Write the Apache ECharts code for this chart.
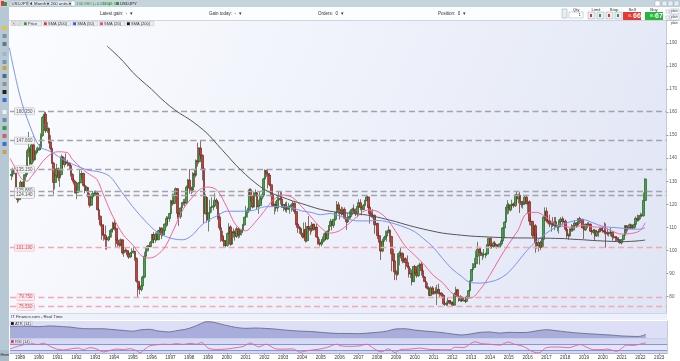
<!DOCTYPE html>
<html>
<head>
<meta charset="utf-8">
<script src="https://cdn.jsdelivr.net/npm/echarts@6/dist/echarts.min.js"></script>
<style>html,body{margin:0;padding:0;background:#fff;}#c{width:680px;height:361px;}</style>
</head>
<body>
<div id="c"></div>
<script>
// USD/JPY monthly candles, Jul 1988 .. Apr 2022
const startYear = 1988, startMonth = 7;
const opens = [
132.5,133.0,134.6,134.3,125.5,122.0,
125.1,129.6,127.3,132.6,132.9,142.8,144.0,137.6,145.8,139.3,142.5,143.4,
143.8,144.5,149.8,157.7,159.1,151.9,152.9,147.0,144.3,137.9,129.5,132.4,
135.4,131.5,132.9,140.6,137.3,138.5,138.1,137.8,136.8,132.9,130.6,129.7,
124.9,125.4,129.3,133.0,133.4,128.2,126.0,127.3,123.3,119.6,123.2,124.6,
124.9,124.9,117.6,114.8,111.1,107.0,106.5,104.8,104.6,105.6,108.3,109.1,
111.9,109.6,104.4,102.9,102.2,104.6,98.9,100.0,99.9,98.6,97.1,98.9,
99.6,99.6,96.5,86.6,83.8,83.0,84.6,88.4,97.5,99.8,101.9,101.6,
103.4,106.9,104.6,106.8,104.6,108.6,109.7,106.7,108.6,111.4,113.9,113.8,
116.0,121.5,120.3,123.9,126.8,116.1,114.6,118.4,120.7,120.9,120.5,127.5,
130.5,127.0,126.1,133.3,132.6,138.9,138.5,144.4,141.3,135.5,116.0,123.0,
113.3,116.2,118.7,118.8,119.3,121.8,121.0,114.5,109.8,106.3,104.3,102.1,
102.2,107.3,110.2,102.7,108.1,107.6,106.1,109.4,106.7,108.1,108.9,111.0,
114.4,116.4,117.4,126.3,123.6,118.8,124.7,125.0,118.9,119.5,122.3,123.9,
131.0,134.7,133.4,132.7,128.5,124.1,119.5,120.0,118.4,121.9,122.5,122.3,
118.7,119.9,117.8,118.1,119.0,119.3,119.8,120.5,116.9,111.4,110.0,109.5,
107.2,105.9,109.1,104.2,110.4,109.5,108.7,111.4,109.2,110.1,105.8,103.1,
102.7,103.6,104.6,107.2,105.0,108.4,110.8,112.6,110.9,113.5,116.4,119.8,
117.9,117.3,115.8,117.8,114.0,112.4,114.4,114.7,117.4,118.0,116.8,115.9,
119.0,120.7,118.6,117.8,119.5,121.7,123.2,118.7,115.9,114.8,115.3,111.2,
111.7,106.4,103.7,99.7,104.0,105.5,106.2,108.0,108.8,106.0,98.5,95.4,
90.6,89.6,97.6,98.9,98.5,95.4,96.4,94.7,93.0,89.8,90.0,86.4,
93.0,90.3,89.0,93.5,94.0,91.2,88.4,86.5,84.2,83.5,80.4,83.7,
81.1,82.1,81.8,83.1,81.2,81.5,80.5,76.8,76.6,77.0,78.2,77.6,
76.9,76.2,81.2,82.9,80.0,78.3,79.8,78.1,78.4,77.9,79.8,82.5,
86.8,91.7,92.6,94.2,97.5,100.5,99.1,97.9,98.2,98.3,98.4,102.4,
105.3,102.0,101.8,103.2,102.2,101.8,101.3,102.8,104.1,109.7,112.3,118.6,
119.8,117.5,119.6,120.1,119.4,124.1,122.4,123.9,121.2,119.9,120.6,123.1,
120.2,121.1,112.7,112.6,106.5,110.7,103.2,102.1,103.4,101.3,104.8,114.5,
117.0,112.8,112.7,111.4,111.5,110.8,112.4,110.2,110.2,112.5,113.6,112.5,
112.7,109.2,106.7,106.3,109.3,108.8,110.7,111.9,111.0,113.7,112.9,113.5,
109.7,108.9,111.4,110.9,111.4,108.3,107.9,108.7,106.3,108.1,108.0,109.5,
108.6,108.4,107.9,107.5,107.2,107.8,107.9,105.9,105.9,105.5,104.7,104.3,
103.3,104.7,106.6,110.7,109.3,109.6,111.1,109.7,110.0,111.3,113.9,113.2,
115.1,115.1,115.0,121.7
];
const highs = [
135.2,135.9,136.2,134.5,125.8,125.7,
130.4,129.8,133.0,134.3,143.5,151.4,145.0,147.2,149.5,143.0,144.7,145.1,
146.2,150.8,158.4,160.35,160.0,155.7,153.4,150.0,145.0,138.3,133.6,137.6,
136.0,133.8,141.6,141.0,140.4,142.0,139.3,138.2,137.1,133.5,131.4,130.2,
127.9,129.7,134.9,134.6,133.7,128.8,128.0,127.6,124.9,124.2,125.8,125.9,
126.0,125.3,118.6,115.1,112.7,111.2,110.8,105.9,106.3,108.8,109.5,112.4,
113.6,110.0,105.6,104.8,105.2,104.8,101.4,101.0,100.4,99.6,99.3,100.9,
101.5,99.7,97.0,86.9,85.6,85.0,89.0,99.4,101.1,102.3,102.3,104.1,
107.1,107.9,107.8,107.8,108.9,110.2,110.0,109.1,111.7,114.9,114.7,116.3,
121.9,124.7,124.6,127.3,127.0,116.2,118.6,120.9,122.3,122.4,128.2,131.0,
135.3,127.7,134.0,135.0,139.5,146.7,144.8,147.66,141.6,136.5,124.5,123.5,
116.5,122.0,123.0,121.0,124.8,122.6,121.5,116.1,111.6,108.5,105.6,104.5,
107.8,111.8,110.9,108.4,109.5,108.6,110.2,109.8,108.6,109.3,111.5,114.6,
119.3,118.5,126.9,126.9,124.0,125.4,126.5,125.3,122.0,125.5,124.4,131.5,
135.15,135.0,133.9,133.6,129.2,124.9,120.3,121.4,124.0,125.7,125.6,125.5,
120.2,120.9,121.3,120.6,119.5,120.5,121.3,120.8,117.2,111.8,110.7,109.6,
107.7,112.1,112.2,110.5,114.9,110.9,112.3,111.5,111.5,111.6,106.0,105.0,
104.9,106.0,107.7,108.1,108.5,110.9,113.7,112.9,113.6,116.5,121.4,121.0,
118.1,119.0,118.7,118.7,114.4,116.2,117.2,117.8,118.5,119.9,118.2,119.1,
122.2,122.2,119.0,120.1,121.9,124.14,123.7,119.9,117.0,117.9,115.4,114.7,
112.0,108.1,104.2,105.0,105.9,108.6,108.6,110.6,109.1,106.3,100.5,95.8,
91.4,98.8,99.8,101.4,99.2,98.8,97.0,97.8,93.4,92.3,91.7,93.1,
93.7,91.8,93.8,94.7,94.9,92.2,88.9,87.2,86.0,83.8,84.4,84.5,
83.7,84.0,85.0,85.5,82.9,81.6,81.0,77.9,77.8,79.5,78.4,78.3,
77.7,81.7,84.2,83.3,80.4,80.6,80.1,79.7,78.6,80.3,82.8,86.9,
91.8,94.5,96.7,99.9,103.7,101.5,101.5,99.1,100.6,99.0,102.6,105.4,
105.4,102.7,103.8,104.1,102.8,102.8,103.1,104.5,110.1,112.5,118.9,121.8,
120.5,120.0,122.0,120.8,124.4,125.86,124.6,125.3,121.3,121.5,123.7,123.6,
121.7,121.7,114.5,112.7,111.5,111.4,107.5,104.3,104.2,105.5,114.8,118.7,
118.6,114.9,115.5,112.2,114.4,114.5,114.5,110.9,113.3,114.4,114.7,114.0,
113.4,110.5,107.3,109.5,111.4,110.9,113.2,112.2,114.0,114.6,114.0,113.7,
110.0,111.5,112.1,112.4,111.7,108.8,109.3,109.3,108.5,109.3,109.7,109.7,
110.3,112.2,111.7,109.4,108.1,109.9,108.2,107.0,106.1,106.1,105.7,104.8,
104.9,106.7,110.97,110.9,110.2,111.6,111.6,110.8,112.1,114.7,115.5,115.3,
116.35,116.0,125.1,131.25
];
const lows = [
130.5,131.8,133.0,124.5,120.5,121.2,
124.2,125.5,126.8,130.2,131.7,140.5,137.0,137.3,138.2,139.0,141.6,142.6,
143.3,143.5,149.3,155.4,151.0,151.0,146.4,143.4,137.6,124.3,126.5,131.6,
130.1,127.5,132.6,135.5,136.0,137.0,136.4,135.0,132.0,129.5,128.6,124.8,
122.2,125.0,129.0,131.4,127.6,124.8,125.6,123.0,118.6,119.2,122.1,123.5,
123.6,117.4,113.2,110.3,104.6,104.2,100.4,100.3,103.9,104.4,105.6,107.7,
108.6,101.4,101.5,100.9,101.8,98.2,97.2,99.0,97.8,96.3,96.8,97.3,
98.5,95.5,86.0,79.75,80.9,82.2,84.2,87.9,97.0,99.6,100.6,101.4,
103.3,103.0,103.3,104.2,104.5,107.8,104.9,106.1,107.8,110.0,110.6,112.4,
115.3,119.4,120.1,123.0,113.6,110.6,113.7,115.3,119.5,119.1,120.2,125.8,
124.6,124.5,125.1,127.4,131.7,136.4,137.6,139.6,130.4,111.6,115.5,112.0,
108.2,112.4,116.4,117.4,119.1,118.0,113.3,108.7,103.7,103.7,101.6,101.3,
101.6,106.8,102.0,102.4,105.5,104.2,105.4,105.2,105.6,106.5,107.5,110.9,
113.8,114.3,117.0,121.3,118.2,118.7,123.4,117.6,115.8,119.2,120.6,123.0,
130.9,131.9,126.9,127.8,123.4,119.0,115.6,116.9,116.8,121.8,119.9,118.6,
117.0,116.7,116.3,117.5,115.9,116.8,117.4,115.8,110.9,107.6,107.2,106.8,
105.2,105.2,103.4,103.6,108.6,106.7,107.8,108.6,108.7,105.6,102.5,101.8,
101.7,103.2,103.8,104.3,104.6,106.6,110.2,108.7,109.8,112.8,116.2,115.7,
113.4,115.1,115.4,113.5,108.9,111.9,113.3,113.8,115.3,116.2,114.9,114.4,
118.5,117.4,115.2,117.4,119.3,121.3,118.4,111.6,114.2,113.9,107.2,110.8,
104.9,103.4,95.8,99.2,102.5,104.5,103.8,107.4,103.5,90.9,92.5,87.1,
87.1,89.0,93.5,96.5,94.4,94.5,91.7,92.2,88.2,88.0,84.8,86.3,
89.8,88.1,88.5,92.7,89.1,88.2,86.3,83.6,82.9,80.3,80.2,80.9,
81.0,81.0,76.3,81.0,79.6,79.7,76.3,75.9,75.9,75.55,76.6,76.6,
76.0,76.1,80.6,79.8,77.7,77.7,77.6,77.9,77.1,77.6,79.0,82.1,
86.5,90.9,92.5,92.6,97.3,93.8,97.6,95.8,96.9,96.6,97.6,101.9,
100.8,100.8,101.2,101.4,100.8,101.1,101.1,102.0,104.0,105.2,111.9,115.6,
115.9,116.9,118.3,118.5,118.9,120.4,120.4,116.2,118.6,118.1,120.4,120.1,
115.9,110.9,110.7,105.6,105.5,99.0,100.7,99.5,100.1,101.2,101.2,112.9,
112.1,111.7,110.1,108.1,110.2,108.8,110.1,108.3,107.3,111.6,110.8,112.0,
108.3,105.2,104.6,105.9,108.1,108.1,110.3,109.8,110.4,111.4,111.8,109.6,
104.9,108.5,109.7,110.8,108.0,106.8,107.2,104.5,106.0,105.9,107.9,108.4,
107.7,107.0,101.2,106.4,106.0,106.1,104.2,105.1,104.0,104.0,103.2,102.9,
102.6,104.4,106.2,107.5,108.3,109.2,109.1,109.1,109.1,110.8,112.5,112.6,
113.5,114.4,114.7,121.3
];
const closes = [
133.0,134.6,134.3,125.5,122.0,125.1,
129.6,127.3,132.6,132.9,142.8,144.0,137.6,145.8,139.3,142.5,143.4,143.8,
144.5,149.8,157.7,159.1,151.9,152.9,147.0,144.3,137.9,129.5,132.4,135.4,
131.5,132.9,140.6,137.3,138.5,138.1,137.8,136.8,132.9,130.6,129.7,124.9,
125.4,129.3,133.0,133.4,128.2,126.0,127.3,123.3,119.6,123.2,124.6,124.9,
124.9,117.6,114.8,111.1,107.0,106.5,104.8,104.6,105.6,108.3,109.1,111.9,
109.6,104.4,102.9,102.2,104.6,98.9,100.0,99.9,98.6,97.1,98.9,99.6,
99.6,96.5,86.6,83.8,83.0,84.6,88.4,97.5,99.8,101.9,101.6,103.4,
106.9,104.6,106.8,104.6,108.6,109.7,106.7,108.6,111.4,113.9,113.8,116.0,
121.5,120.3,123.9,126.8,116.1,114.6,118.4,120.7,120.9,120.5,127.5,130.5,
127.0,126.1,133.3,132.6,138.9,138.5,144.4,141.3,135.5,116.0,123.0,113.3,
116.2,118.7,118.8,119.3,121.8,121.0,114.5,109.8,106.3,104.3,102.1,102.2,
107.3,110.2,102.7,108.1,107.6,106.1,109.4,106.7,108.1,108.9,111.0,114.4,
116.4,117.4,126.3,123.6,118.8,124.7,125.0,118.9,119.5,122.3,123.9,131.0,
134.7,133.4,132.7,128.5,124.1,119.5,120.0,118.4,121.9,122.5,122.3,118.7,
119.9,117.8,118.1,119.0,119.3,119.8,120.5,116.9,111.4,110.0,109.5,107.2,
105.9,109.1,104.2,110.4,109.5,108.7,111.4,109.2,110.1,105.8,103.1,102.7,
103.6,104.6,107.2,105.0,108.4,110.8,112.6,110.9,113.5,116.4,119.8,117.9,
117.3,115.8,117.8,114.0,112.4,114.4,114.7,117.4,118.0,116.8,115.9,119.0,
120.7,118.6,117.8,119.5,121.7,123.2,118.7,115.9,114.8,115.3,111.2,111.7,
106.4,103.7,99.7,104.0,105.5,106.2,108.0,108.8,106.0,98.5,95.4,90.6,
89.6,97.6,98.9,98.5,95.4,96.4,94.7,93.0,89.8,90.0,86.4,93.0,
90.3,89.0,93.5,94.0,91.2,88.4,86.5,84.2,83.5,80.4,83.7,81.1,
82.1,81.8,83.1,81.2,81.5,80.5,76.8,76.6,77.0,78.2,77.6,76.9,
76.2,81.2,82.9,80.0,78.3,79.8,78.1,78.4,77.9,79.8,82.5,86.8,
91.7,92.6,94.2,97.5,100.5,99.1,97.9,98.2,98.3,98.4,102.4,105.3,
102.0,101.8,103.2,102.2,101.8,101.3,102.8,104.1,109.7,112.3,118.6,119.8,
117.5,119.6,120.1,119.4,124.1,122.4,123.9,121.2,119.9,120.6,123.1,120.2,
121.1,112.7,112.6,106.5,110.7,103.2,102.1,103.4,101.3,104.8,114.5,117.0,
112.8,112.7,111.4,111.5,110.8,112.4,110.2,110.2,112.5,113.6,112.5,112.7,
109.2,106.7,106.3,109.3,108.8,110.7,111.9,111.0,113.7,112.9,113.5,109.7,
108.9,111.4,110.9,111.4,108.3,107.9,108.7,106.3,108.1,108.0,109.5,108.6,
108.4,107.9,107.5,107.2,107.8,107.9,105.9,105.9,105.5,104.7,104.3,103.3,
104.7,106.6,110.7,109.3,109.6,111.1,109.7,110.0,111.3,113.9,113.2,115.1,
115.1,115.0,121.7,130.98
];

// moving averages: [year, value]
const sma20 = [
[1988.47,140.0],[1988.8,135.0],[1989.1,131.0],[1989.37,130.0],[1989.6,132.0],[1989.9,135.1],[1990.2,138.5],[1990.6,141.6],
[1991.0,142.8],[1991.5,142.5],[1991.8,139.4],[1992.35,135.1],[1992.7,133.0],[1993.1,130.7],[1993.4,125.0],[1993.95,114.6],
[1994.5,106.8],[1995.0,102.4],[1995.54,97.2],[1995.9,96.7],[1996.6,100.2],[1997.1,107.6],[1997.67,117.6],[1998.2,123.3],
[1998.57,126.4],[1999.0,127.5],[1999.5,126.0],[2000.0,119.0],[2000.5,111.0],[2001.0,108.5],[2001.5,112.0],[2002.0,117.0],
[2002.5,122.0],[2003.0,124.0],[2003.5,123.0],[2004.0,119.0],[2004.5,114.5],[2005.0,110.0],[2005.5,107.5],[2006.0,108.5],
[2006.5,111.5],[2007.0,115.0],[2007.5,117.5],[2008.0,117.0],[2008.5,114.0],[2009.0,108.3],[2009.5,102.0],[2010.0,98.0],
[2010.5,94.0],[2011.0,89.2],[2011.5,86.0],[2012.0,81.5],[2012.5,79.5],[2013.0,79.4],[2013.5,83.0],[2014.0,89.0],
[2014.5,96.0],[2015.0,102.5],[2015.5,108.5],[2016.0,116.1],[2016.5,116.5],[2017.0,114.5],[2017.5,111.5],[2018.0,110.3],
[2018.5,110.0],[2019.0,110.9],[2019.5,110.2],[2020.0,110.0],[2020.5,108.5],[2021.0,107.1],[2021.5,107.3],[2022.0,108.5],
[2022.29,111.964]
];
const sma50 = [
[1988.43,188.0],[1989.0,167.0],[1989.53,154.0],[1990.06,145.0],[1990.6,143.0],[1991.5,138.6],[1992.56,135.0],[1993.26,134.0],
[1993.8,132.0],[1994.32,126.4],[1995.0,119.0],[1995.76,112.0],[1996.3,108.0],[1996.98,105.4],[1997.67,104.6],[1998.2,106.8],
[1998.57,110.2],[1999.0,113.0],[1999.5,115.0],[2000.0,117.0],[2000.5,117.0],[2001.0,117.0],[2001.5,117.5],[2002.0,118.9],
[2002.5,119.0],[2003.0,119.0],[2003.5,118.5],[2004.0,117.1],[2004.5,116.5],[2005.0,115.5],[2005.5,116.0],[2006.0,115.0],
[2006.5,113.5],[2007.0,112.8],[2007.5,112.8],[2008.0,113.0],[2008.5,112.5],[2009.0,111.4],[2009.5,110.0],[2010.0,108.2],
[2010.5,105.0],[2011.0,101.4],[2011.5,96.5],[2012.0,92.0],[2012.5,88.8],[2013.0,86.0],[2013.5,85.8],[2014.0,86.3],
[2014.5,87.6],[2015.0,90.4],[2015.5,95.0],[2016.0,100.0],[2016.5,104.0],[2017.0,107.3],[2017.5,110.0],[2018.0,111.6],
[2018.5,112.8],[2019.0,113.3],[2019.5,112.0],[2020.0,110.5],[2020.5,110.0],[2021.0,109.7],[2021.5,109.3],[2022.0,109.2],
[2022.29,109.781]
];
const sma200 = [
[1993.63,188.7],[1994.0,186.0],[1994.5,182.0],[1995.0,177.3],[1995.5,173.5],[1996.0,170.0],[1996.5,166.0],[1997.0,162.5],
[1997.5,159.5],[1998.0,157.0],[1998.5,154.0],[1999.0,150.5],[1999.5,146.0],[2000.0,141.5],[2000.5,137.0],[2001.0,133.0],
[2001.5,129.5],[2002.0,126.5],[2002.5,124.5],[2003.0,123.0],[2003.5,121.5],[2004.0,120.3],[2004.5,119.0],[2005.0,117.8],
[2005.5,117.0],[2006.0,116.5],[2006.5,116.2],[2007.0,115.8],[2007.5,115.3],[2008.0,114.5],[2008.5,113.5],[2009.0,112.5],
[2009.5,111.3],[2010.0,110.2],[2010.5,109.2],[2011.0,108.3],[2011.5,107.5],[2012.0,107.0],[2012.5,106.6],[2013.0,106.2],
[2013.5,106.0],[2014.0,105.8],[2014.5,105.6],[2015.0,105.5],[2015.5,105.4],[2016.0,105.4],[2016.5,105.3],[2017.0,105.3],
[2017.5,105.2],[2018.0,105.1],[2018.5,104.8],[2019.0,104.6],[2019.5,104.3],[2020.0,104.1],[2020.5,103.9],[2021.0,103.8],
[2021.5,103.9],[2022.0,104.2],[2022.29,104.482]
];
const atr14 = [
[1988.47,8.0],[1989.0,8.3],[1989.5,8.2],[1990.0,8.0],[1990.6,8.4],[1991.3,8.0],[1991.66,7.8],[1992.1,7.2],[1992.7,6.9],
[1993.4,6.9],[1993.8,6.6],[1994.5,6.0],[1995.0,5.6],[1995.4,6.3],[1995.9,6.6],[1996.3,5.8],[1996.9,5.2],[1997.4,6.0],
[1997.8,6.6],[1998.2,7.8],[1998.6,9.5],[1998.9,10.6],[1999.2,10.5],[1999.6,9.6],[2000.0,8.6],[2000.5,7.6],[2001.0,7.1],
[2001.5,7.3],[2002.0,7.1],[2002.5,6.8],[2003.0,6.3],[2003.5,5.9],[2004.0,5.6],[2004.5,5.4],[2005.0,5.0],[2005.5,4.6],
[2006.0,4.4],[2006.5,4.4],[2007.0,4.3],[2007.5,4.6],[2008.0,5.0],[2008.5,5.6],[2009.0,6.8],[2009.5,6.9],[2010.0,6.2],
[2010.5,5.7],[2011.0,5.3],[2011.5,4.8],[2012.0,4.1],[2012.5,3.6],[2013.0,4.2],[2013.5,5.0],[2014.0,5.2],[2014.5,4.6],
[2015.0,5.0],[2015.5,4.9],[2016.0,5.0],[2016.5,5.8],[2017.0,6.4],[2017.5,5.9],[2018.0,5.3],[2018.5,4.8],[2019.0,4.4],
[2019.5,4.1],[2020.0,3.8],[2020.5,3.5],[2021.0,3.1],[2021.5,2.9],[2021.9,2.8],[2022.1,3.2],[2022.29,3.8796]
];
const rsi14 = [
[1988.47,41],[1988.73,53],[1989.0,62],[1989.27,72],[1989.53,80],[1989.71,74],[1989.98,70],[1990.24,79],[1990.6,58],
[1990.95,41],[1991.3,35],[1991.66,41],[1992.1,47],[1992.37,37],[1992.72,50],[1993.08,41],[1993.43,22],[1993.79,32],
[1994.14,41],[1994.5,37],[1994.85,43],[1995.2,30],[1995.38,16],[1995.65,41],[1995.91,62],[1996.27,68],[1996.62,72],
[1996.98,70],[1997.33,76],[1997.69,70],[1998.04,78],[1998.4,72],[1998.65,84],[1999.0,47],[1999.46,38],[1999.99,41],
[2000.35,47],[2000.88,58],[2001.25,80],[2001.7,55],[2002.1,72],[2002.6,42],[2003.0,40],[2003.5,42],[2003.9,20],
[2004.25,30],[2004.8,38],[2005.3,50],[2005.85,72],[2006.02,62],[2006.55,58],[2007.09,62],[2007.44,72],[2007.79,47],
[2008.2,22],[2008.6,42],[2008.95,18],[2009.25,38],[2009.74,40],[2010.28,47],[2010.81,38],[2011.34,37],[2011.87,36],
[2012.14,53],[2012.58,50],[2013.2,88],[2013.55,76],[2014.0,72],[2014.53,66],[2014.95,86],[2015.3,72],[2015.77,58],
[2016.3,22],[2016.6,16],[2017.0,50],[2017.55,54],[2018.2,50],[2018.79,70],[2019.14,53],[2019.5,37],[2020.03,37],
[2020.21,41],[2020.74,26],[2021.0,45],[2021.25,66],[2021.6,64],[2021.98,72],[2022.15,78],[2022.29,80.61]
];
const rsiBands = [70, 30];
const levelsGray = [160.35, 147.66, 135.15, 125.86, 124.14];
const levelsPink = [101.19, 79.75, 75.55];
const yearTicks = [1989,1990,1991,1992,1993,1994,1995,1996,1997,1998,1999,2000,2001,2002,2003,2004,2005,2006,
  2007,2008,2009,2010,2011,2012,2013,2014,2015,2016,2017,2018,2019,2020,2021,2022,2023];
const legendItems = [['Price','#3a9a3a'],['SMA (200)','#e0303a'],['SMA (50)','#3355dd'],['SMA (20)','#f0407a'],['SMA (200)','#111111']];

// ---------- build ----------
const FONT = 'Liberation Sans, Arial, sans-serif';
const monthX = i => startYear + (startMonth - 1 + i + 0.5) / 12;
const candles = closes.map((c, i) => [monthX(i), opens[i], c, lows[i], highs[i]]);
const last = a => a[a.length - 1];
const X_MIN = 1988.468, X_MAX = 2023.415;

const tag = (bg, fg, border, dec) => ({
  show: true, position: 'end', distance: 2, fontSize: 5, fontFamily: FONT, color: fg,
  backgroundColor: bg, borderColor: border, borderWidth: 0.5, padding: [1, 1.5, 0.5, 1.5],
  formatter: p => Number(p.value).toFixed(dec)
});
const levelLabel = (bg, fg, border) => ({
  show: true, position: 'start', distance: -24, fontSize: 4.5, fontFamily: FONT, color: fg,
  backgroundColor: bg, borderColor: border, borderWidth: 0.5, padding: [1, 1.5, 0.5, 1.5],
  formatter: p => Number(p.value).toFixed(3)
});
const hidden = { opacity: 0, width: 0 };

const ui = [];
const R = (x, y, w, h, fill, stroke, z) => ui.push({ type: 'rect', z: z || 50, silent: true,
  shape: { x, y, width: w, height: h }, style: { fill: fill, stroke: stroke || null, lineWidth: stroke ? 0.5 : 0 } });
const T = (x, y, text, fill, size, align, weight) => ui.push({ type: 'text', z: 60, silent: true,
  style: { x, y, text, fill: fill || '#333', fontSize: size || 5, fontFamily: FONT, textAlign: align || 'left',
    textVerticalAlign: 'middle', verticalAlign: 'middle', fontWeight: weight || 'normal' } });

// window chrome
R(0, 0, 680, 7, '#c5d3dd');
R(0, 7, 680, 13, '#fcfdfe');
R(0, 20, 680, 0.8, '#c4ccd8');
R(0, 7, 9, 354, '#b5c8d4');
R(1, 1, 3, 5, '#d83a30'); R(4, 2, 3, 4, '#3a9a3a');
R(10, 1, 17, 5, '#e6edf2', '#98aab8'); T(11.5, 3.7, 'USDJPY ▾', '#222', 4.3);
R(29, 1, 18, 5, '#e6edf2', '#98aab8'); T(30.5, 3.7, '1 Month ▾', '#222', 4.3);
R(49, 1, 20, 5, '#e6edf2', '#98aab8'); T(50.5, 3.7, '200 units ▾', '#222', 4.3);
R(71, 1, 4, 5, '#ffffff', '#98aab8');
T(76, 3.7, '130.980 (+0.65%)', '#2f9a2f', 4.3); T(102, 3.7, '11:48:50', '#2f9a2f', 4.3);
R(116, 2, 3, 3, '#2f9a2f'); T(120, 3.7, 'USDJPY', '#222', 4.3);
R(655, 1, 5, 5, '#ffffff', '#98aab8'); R(662, 1, 5, 5, '#e6edf2', '#98aab8');
R(668, 1, 5, 5, '#e6edf2', '#98aab8'); R(674, 1, 5, 5, '#e6edf2', '#98aab8');
T(100, 14, 'Latest gain:  -  ▾', '#333', 4.5);
T(209, 14, 'Gain today:  -  ▾', '#333', 4.5);
T(318, 14, 'Orders:  0  ▾', '#333', 4.5);
T(438, 14, 'Position:  0  ▾', '#333', 4.5);
R(562, 9, 5, 9, '#e9eef2', '#98aab8');
T(576, 9.5, 'Qty', '#333', 4.3, 'center'); R(569, 12, 14, 6, '#ffffff', '#98aab8'); T(581, 15, '1', '#333', 4.3, 'right');
T(596, 9.5, 'Limit', '#333', 4.3, 'center'); R(588, 12, 7, 7, '#e9eef2', '#98aab8'); R(597, 12, 7, 7, '#e9eef2', '#98aab8');
R(590, 14, 2, 3, '#d83a30'); R(599, 14, 2, 3, '#3a9a3a');
T(614, 9.5, 'Stop', '#333', 4.3, 'center'); R(606, 12, 7, 7, '#e9eef2', '#98aab8'); R(615, 12, 7, 7, '#e9eef2', '#98aab8');
R(608, 14, 2, 3, '#d83a30'); R(617, 14, 2, 3, '#3a9a3a');
T(632, 9.5, 'Sell', '#333', 4.3, 'center'); R(623, 12, 18, 8, '#e23b35');
T(628, 16.5, 'SL', '#ffd7d5', 3.5); T(637, 16, '66', '#ffffff', 7, 'center', 'bold');
T(654, 9.5, 'Buy', '#333', 4.3, 'center'); R(645, 12, 18, 8, '#27b53c');
T(650, 16.5, 'BU', '#d5ffd9', 3.5); T(659, 16, '67', '#ffffff', 7, 'center', 'bold');
R(666, 10, 3, 3, '#ffffff', '#98aab8'); R(666, 16, 3, 3, '#ffffff', '#98aab8');
R(670, 9, 9, 5, '#ffffff', '#98aab8'); R(670, 15, 9, 5, '#ffffff', '#98aab8');
T(671, 11.5, 'plain', '#333', 3.2); T(671, 17.5, 'plain', '#333', 3.2); T(671, 23, 'plain', '#333', 3.2);
// left toolbar icons
[[26,'#e8c230'],[34,'#7d8fa0'],[42,'#5a7a90'],[52,'#a0b4c2'],[60,'#7096b8'],[66,'#d0a040'],[74,'#4d6b80'],
 [82,'#909090'],[90,'#222222'],[98,'#3a70d0'],[110,'#f0f0f0'],[118,'#6a8aa0'],[126,'#3a9a3a'],[134,'#d06060'],[142,'#3a70d0'],[150,'#d0a040']]
  .forEach(([y, c]) => R(2.5, y, 4, 4, c));
R(0, 350, 9, 11, '#a9bcc9'); T(0.5, 355.5, 'Hmm', '#222', 3.5);
// legend row
R(11, 21.5, 5, 4, '#f0f0f0', '#b0b0b8'); R(17, 21.5, 5, 4, '#f0f0f0', '#b0b0b8');
T(12, 23.7, '✕', '#d04040', 3.5); T(18, 23.7, '✓', '#3a9a3a', 3.5);
let lx = 23;
legendItems.forEach(([name, col]) => {
  const w = name.length * 2.3 + 7;
  R(lx, 21.5, w, 4.2, '#eceef2', '#b8bcc6');
  R(lx + 1, 22.3, 2.8, 2.8, col);
  T(lx + 5, 23.8, name, '#333', 4);
  lx += w + 1.5;
});
// lower panels chrome
R(10, 313.5, 657, 6.5, '#eef0fa', null, 40);
R(10, 313.5, 657, 0.6, '#b6bce0', null, 41);
T(11, 317, 'IT Finance.com - Real Time', '#333', 4.2);
R(10, 321.3, 22, 4.4, '#eceef6', '#a8acc8'); R(11, 322.1, 2.8, 2.8, '#111111'); T(15, 323.6, 'ATR (14)', '#333', 4);
R(10, 339.3, 21, 4.4, '#eceef6', '#a8acc8'); R(11, 340.1, 2.8, 2.8, '#e8305a'); T(15, 341.6, 'RSI (14)', '#333', 4);
R(10, 338, 657, 0.8, '#b6bce0', null, 41);

const chart = echarts.init(document.getElementById('c'), null, { renderer: 'canvas', width: 680, height: 361 });
chart.setOption({
  animation: false,
  backgroundColor: '#ffffff',
  textStyle: { fontFamily: FONT },
  grid: [
    { left: 10, right: 13, top: 20, height: 299.5, show: true, borderWidth: 0,
      backgroundColor: { type: 'linear', x: 0, y: 0, x2: 1, y2: 1,
        colorStops: [{ offset: 0, color: '#fbfcff' }, { offset: 0.5, color: '#eef1fa' }, { offset: 1, color: '#e0e5f5' }] } },
    { left: 10, right: 13, top: 321, height: 17, show: true, borderWidth: 0, backgroundColor: '#dcdff5' },
    { left: 10, right: 13, top: 339, height: 14, show: true, borderWidth: 0, backgroundColor: '#d5d9f2' }
  ],
  xAxis: [
    { type: 'value', gridIndex: 0, min: X_MIN, max: X_MAX, show: false, splitLine: { show: false } },
    { type: 'value', gridIndex: 1, min: X_MIN, max: X_MAX, show: false, splitLine: { show: false } },
    { type: 'value', gridIndex: 2, min: X_MIN, max: X_MAX, splitLine: { show: false },
      axisLine: { show: true, lineStyle: { color: '#9aa0bc', width: 0.8 } },
      axisTick: { show: true, customValues: yearTicks, length: 2, lineStyle: { color: '#9aa0bc' } },
      axisLabel: { customValues: yearTicks, fontSize: 4.6, color: '#333', margin: 2.5, formatter: v => String(Math.round(v)) } }
  ],
  yAxis: [
    { type: 'value', gridIndex: 0, position: 'right', min: 70, max: 200, interval: 10, splitLine: { show: false },
      axisLine: { show: true, lineStyle: { color: '#b8bfcc', width: 0.8 } },
      axisTick: { show: true, length: 2, lineStyle: { color: '#999' } },
      axisLabel: { fontSize: 4.6, color: '#555', margin: 3, showMinLabel: false } },
    { type: 'value', gridIndex: 1, position: 'right', min: 2, max: 11, splitLine: { show: false },
      axisLine: { show: true, lineStyle: { color: '#b8bfcc', width: 0.8 } }, axisTick: { show: false }, axisLabel: { show: false } },
    { type: 'value', gridIndex: 2, position: 'right', min: 15, max: 106, splitLine: { show: false },
      axisLine: { show: true, lineStyle: { color: '#b8bfcc', width: 0.8 } }, axisTick: { show: false }, axisLabel: { show: false } }
  ],
  series: [
    { name: 'Price', type: 'candlestick', xAxisIndex: 0, yAxisIndex: 0, encode: { x: 0, y: [1, 2, 3, 4] },
      data: candles, barWidth: 2.2,
      itemStyle: { color: '#43a843', color0: '#cf3c33', borderColor: '#2a5a2a', borderColor0: '#6a2822', borderWidth: 0.7 },
      markLine: { symbol: ['none', 'none'], silent: true, animation: false, z: 3,
        data: levelsGray.map(v => ({ yAxis: v, lineStyle: { color: '#a3a3a8', type: [6, 3.5], width: 1.3 },
                 label: levelLabel('#f3f3f6', '#555', '#a8a8b0') }))
          .concat(levelsPink.map(v => ({ yAxis: v, lineStyle: { color: '#f3a9b3', type: [6, 3.5], width: 1.3 },
                 label: levelLabel('#fde9ec', '#d04a5a', '#f3a9b3') })))
          .concat([{ yAxis: last(closes), lineStyle: hidden, label: tag('#f2d31c', '#333', '#c9a800', 3) }]) } },
    { name: 'SMA (20)', type: 'line', xAxisIndex: 0, yAxisIndex: 0, data: sma20, showSymbol: false, smooth: 0.35,
      lineStyle: { color: '#f2679a', width: 1 }, z: 4,
      markLine: { symbol: ['none', 'none'], silent: true, data: [{ yAxis: last(sma20)[1], lineStyle: hidden,
        label: tag('#fde6ef', '#e0457c', '#f2679a', 3) }] } },
    { name: 'SMA (50)', type: 'line', xAxisIndex: 0, yAxisIndex: 0, data: sma50, showSymbol: false, smooth: 0.35,
      lineStyle: { color: '#7b93f2', width: 1 }, z: 4,
      markLine: { symbol: ['none', 'none'], silent: true, data: [{ yAxis: last(sma50)[1], lineStyle: hidden,
        label: tag('#e6ebfd', '#3f5fd8', '#7b93f2', 3) }] } },
    { name: 'SMA (200)', type: 'line', xAxisIndex: 0, yAxisIndex: 0, data: sma200, showSymbol: false, smooth: 0.35,
      lineStyle: { color: '#555555', width: 1 }, z: 4,
      markLine: { symbol: ['none', 'none'], silent: true, data: [{ yAxis: last(sma200)[1], lineStyle: hidden,
        label: tag('#eeeeee', '#444', '#999', 3) }] } },
    { name: 'ATR (14)', type: 'line', xAxisIndex: 1, yAxisIndex: 1, data: atr14, showSymbol: false, smooth: 0.3,
      lineStyle: { color: '#62627e', width: 0.8 }, areaStyle: { color: '#a9addb', opacity: 1 },
      markLine: { symbol: ['none', 'none'], silent: true, data: [{ yAxis: last(atr14)[1], lineStyle: hidden,
        label: tag('#f4f4f8', '#333', '#888', 4) }] } },
    { name: 'RSI (14)', type: 'line', xAxisIndex: 2, yAxisIndex: 2, data: rsi14, showSymbol: false, smooth: 0.3,
      lineStyle: { color: '#e8609a', width: 0.9 }, z: 5,
      markArea: { silent: true, itemStyle: { color: '#e4e6f9' }, data: [[{ yAxis: rsiBands[1] }, { yAxis: rsiBands[0] }]] },
      markLine: { symbol: ['none', 'none'], silent: true,
        data: rsiBands.map(v => ({ yAxis: v, lineStyle: { color: '#7c8ae0', width: 0.9, type: 'solid' }, label: { show: false } }))
          .concat([{ yAxis: last(rsi14)[1], lineStyle: hidden, label: tag('#fde6ef', '#e0457c', '#f2679a', 2) }]) } }
  ],
  graphic: ui
});
</script>
</body>
</html>
